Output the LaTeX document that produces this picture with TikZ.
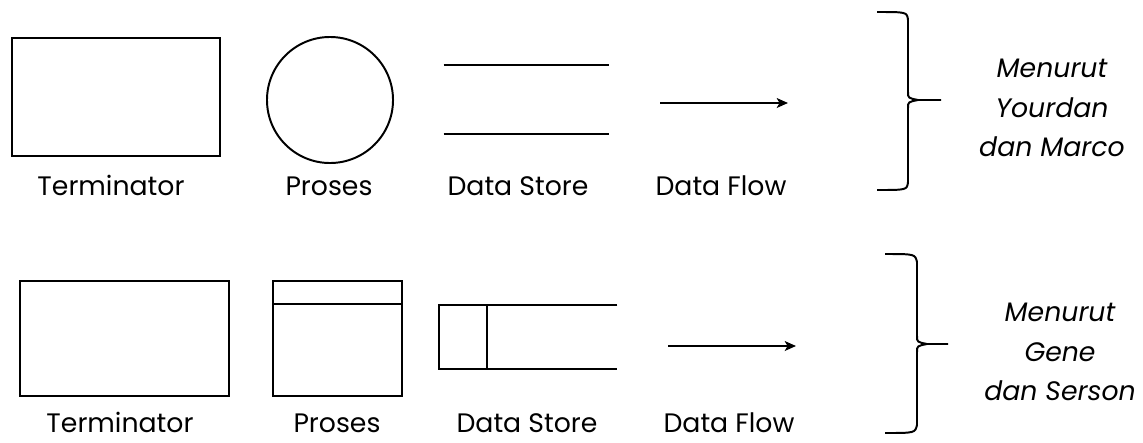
\documentclass[tikz,border=0pt]{standalone}
\usepackage{fontspec}
\setmainfont{Poppins}
\usetikzlibrary{positioning,arrows.meta}

\tikzstyle{symNode} = [rectangle, draw=black, line width=1.4pt, inner sep=0pt]
\tikzstyle{storeNode} = [rectangle, draw=none, inner sep=0pt]
\tikzstyle{symLine} = [line width=1.4pt]
\tikzstyle{capLabel} = [font=\fontsize{19}{22}\selectfont, inner sep=0pt, anchor=base]
\tikzstyle{noteNode} = [font=\fontsize{19}{28}\selectfont\itshape, align=center, inner sep=0pt]
\tikzstyle{arrow} = [line width=1.4pt,-{Stealth[length=8pt,width=7pt,inset=2pt]}]

\begin{document}
\begin{tikzpicture}[x=0.025cm,y=-0.025cm]
  \useasboundingbox (0,0) rectangle (1143,442);

  % Yourdan dan Marco
  \node (term1)[symNode, minimum width=5.2cm, minimum height=2.95cm] at (116,97) {};
  \node (proc1)[symNode, circle, minimum size=3.15cm] at (330,100) {};
  \node (store1)[storeNode, minimum width=4.125cm, minimum height=1.725cm] at (526.5,99.5) {};
  \draw [symLine] (store1.north west) -- (store1.north east);
  \draw [symLine] (store1.south west) -- (store1.south east);
  \coordinate (flow1a) at (660,103);
  \coordinate (flow1b) at (788,103);
  \draw [arrow] (flow1a) -- (flow1b);

  \node (l_term1)[capLabel] at (111,195) {Terminator};
  \node (l_proc1)[capLabel] at (329,195) {Proses};
  \node (l_store1)[capLabel] at (518,195) {Data Store};
  \node (l_flow1)[capLabel] at (721,195) {Data Flow};

  \draw [symLine] (877,12) .. controls (907,12) .. (908,20) -- (908,92)
    .. controls (908,98) .. (918,100) -- (941,100);
  \draw [symLine] (877,190) .. controls (907,190) .. (908,182) -- (908,108)
    .. controls (908,102) .. (918,100);
  \node (note1)[noteNode] at (1052,108) {Menurut\\Yourdan\\dan Marco};

  % Gene dan Serson
  \node (term2)[symNode, minimum width=5.225cm, minimum height=2.875cm] at (124.5,338.5) {};
  \node (proc2)[symNode, minimum width=3.225cm, minimum height=2.875cm] at (337.5,338.5) {};
  \draw [symLine] ([yshift=-0.6cm]proc2.north west) -- ([yshift=-0.6cm]proc2.north east);
  \node (store2)[storeNode, minimum width=4.45cm, minimum height=1.6cm] at (528,337) {};
  \draw [symLine] (store2.north east) -- (store2.north west) -- (store2.south west) -- (store2.south east);
  \draw [symLine] ([xshift=1.2cm]store2.north west) -- ([xshift=1.2cm]store2.south west);
  \coordinate (flow2a) at (668,346);
  \coordinate (flow2b) at (796,346);
  \draw [arrow] (flow2a) -- (flow2b);

  \node (l_term2)[capLabel] at (120,432) {Terminator};
  \node (l_proc2)[capLabel] at (337,432) {Proses};
  \node (l_store2)[capLabel] at (527,432) {Data Store};
  \node (l_flow2)[capLabel] at (729,432) {Data Flow};

  \draw [symLine] (885,254) .. controls (915,254) .. (917,262) -- (917,336)
    .. controls (917,342) .. (927,344) -- (948,344);
  \draw [symLine] (885,433) .. controls (915,433) .. (917,425) -- (917,352)
    .. controls (917,346) .. (927,344);
  \node (note2)[noteNode] at (1060,352) {Menurut\\Gene\\dan Serson};
\end{tikzpicture}
\end{document}
